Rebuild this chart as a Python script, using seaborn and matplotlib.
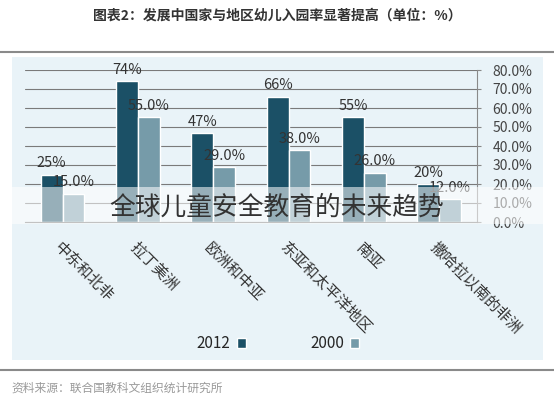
import seaborn as sns
import pandas as pd
import matplotlib.pyplot as plt
from matplotlib.patches import Rectangle

# data (left to right as shown)
regions = ['中东和北非', '拉丁美洲', '欧洲和中亚', '东亚和太平洋地区', '南亚', '撒哈拉以南的非洲']
rate_2012 = [25, 74, 47, 66, 55, 20]
rate_2000 = [15, 55, 29, 38, 26, 12]
years = ['2012', '2000']
y_ticks = [0, 10, 20, 30, 40, 50, 60, 70, 80]

title = '图表2：发展中国家与地区幼儿入园率显著提高（单位：%）'
source = '资料来源：联合国教科文组织统计研究所'
overlay = '全球儿童安全教育的未来趋势'

df = pd.DataFrame({
    'region': regions * 2,
    'year': ['2012'] * len(regions) + ['2000'] * len(regions),
    'rate': rate_2012 + rate_2000,
})

sns.set_style('white')
plt.rcParams['font.family'] = ['Noto Sans CJK SC', 'DejaVu Sans']

fig = plt.figure(figsize=(5.54, 4.0), dpi=100)
fig.patch.set_facecolor('white')

# light blue panel and the two grey rules
fig.patches.append(Rectangle((0.022, 0.1), 0.958, 0.7575, transform=fig.transFigure,
                             facecolor='#e9f3f8', edgecolor='none', zorder=-5))
for yy in [0.87, 0.075]:
    fig.add_artist(plt.Line2D([0, 1], [yy, yy], transform=fig.transFigure,
                              color='#8a8a8a', lw=1.5))

fig.text(0.5, 0.96, title, ha='center', va='center', fontsize=10,
         fontweight='bold', color='#333333')
fig.text(0.02, 0.03, source, ha='left', va='center', fontsize=8.5, color='#9a9a9a')

ax = fig.add_axes([0.045, 0.445, 0.816, 0.38])
ax.set_zorder(1)
ax.set_facecolor('none')

sns.barplot(data=df, x='region', y='rate', hue='year', order=regions, hue_order=years,
            palette={'2012': '#0f5572', '2000': '#6e9fb1'}, width=0.58, ax=ax)

ax.set_ylim(0, 80)
ax.set_xlim(-0.5, len(regions) - 0.5)
ax.set_yticks(y_ticks)
ax.set_yticklabels([f'{t:.1f}%' for t in y_ticks], fontsize=10, color='#444444')
ax.yaxis.tick_right()
ax.tick_params(axis='y', length=3, color='#888888', pad=8)
ax.grid(axis='y', color='#7a7a7a', lw=0.8)
ax.set_axisbelow(True)
for side in ['top', 'left', 'right']:
    ax.spines[side].set_visible(False)
ax.spines['right'].set_visible(True)
ax.spines['right'].set_color('#8a8a8a')
ax.spines['bottom'].set_color('#7a7a7a')

ax.set_xticks(range(len(regions)))
ax.set_xticklabels(regions, rotation=-45, ha='left', rotation_mode='anchor',
                   fontsize=11, color='#333333')
ax.tick_params(axis='x', length=0, pad=12)
ax.set_xticks([i - 0.5 for i in range(len(regions) + 1)], minor=True)
ax.tick_params(axis='x', which='minor', length=5, color='#7a7a7a')
ax.set_xlabel('')
ax.set_ylabel('')

ax.bar_label(ax.containers[0], labels=[f'{v}%' for v in rate_2012],
             padding=3, fontsize=10.5, color='#333333')
ax.bar_label(ax.containers[1], labels=[f'{v:.1f}%' for v in rate_2000],
             padding=3, fontsize=10.5, color='#333333')

ax.legend(loc='center', bbox_to_anchor=(278 / 554, 1 - 344 / 400),
          bbox_transform=fig.transFigure, ncol=2, frameon=False, markerfirst=False,
          fontsize=11, handlelength=0.6, handleheight=0.6, handletextpad=0.4,
          columnspacing=4.2)

# white translucent band with the overlay caption
band = Rectangle((0.0, 1 - 224 / 400), 1.0, 37 / 400, transform=fig.transFigure,
                 facecolor='white', alpha=0.55, edgecolor='none')
band.set_zorder(5)
fig.add_artist(band)
fig.text(0.5, 1 - 208 / 400, overlay, ha='center', va='center', fontsize=18.5,
         color='#333333', zorder=6)

fig.savefig('out.png', dpi=100)
